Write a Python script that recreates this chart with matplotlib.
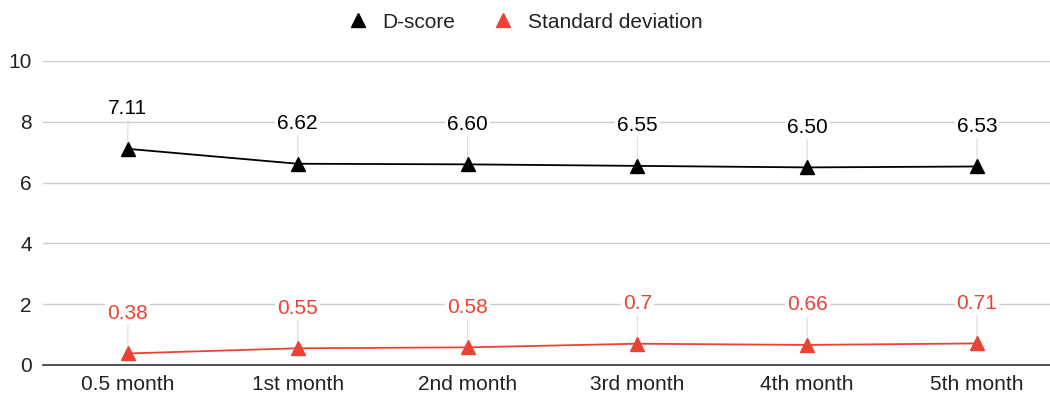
import matplotlib
matplotlib.use("Agg")
import matplotlib.pyplot as plt

categories = ["0.5 month", "1st month", "2nd month", "3rd month", "4th month", "5th month"]
dscore = [7.11, 6.62, 6.60, 6.55, 6.50, 6.53]
stddev = [0.38, 0.55, 0.58, 0.70, 0.66, 0.71]
dscore_labels = ["7.11", "6.62", "6.60", "6.55", "6.50", "6.53"]
stddev_labels = ["0.38", "0.55", "0.58", "0.7", "0.66", "0.71"]

plt.rcParams['font.family'] = ['Liberation Sans', 'DejaVu Sans']

fig = plt.figure(figsize=(10.5, 3.96), dpi=100)
ax = fig.add_axes([43/1050, 1 - 365/396, (1050-43)/1050, (365-61)/396])

BLACK = "#000000"
RED = "#ea4335"
x = list(range(len(categories)))

ax.plot(x, dscore, color=BLACK, lw=1.3, marker="^", ms=10, label="D-score", zorder=4)
ax.plot(x, stddev, color=RED, lw=1.3, marker="^", ms=10, label="Standard deviation", zorder=4)

def annotate(vals, labels, color):
    for xi, v, s in zip(x, vals, labels):
        ax.annotate(s, xy=(xi, v), xytext=(0, 29), textcoords="offset points",
                    ha="center", va="center", fontsize=15, color=color,
                    bbox=dict(boxstyle="square,pad=0.1", fc="white", ec="none"),
                    arrowprops=dict(arrowstyle="-", color="#dddddd", lw=0.8,
                                    shrinkA=0, shrinkB=5),
                    zorder=3)

annotate(dscore, dscore_labels, BLACK)
annotate(stddev, stddev_labels, RED)

ax.set_xlim(-0.5, 5.43)
ax.set_ylim(0, 10)
ax.set_yticks([0, 2, 4, 6, 8, 10])
ax.set_xticks(x)
ax.set_xticklabels(categories)
ax.tick_params(axis="both", length=0, labelsize=15, colors="#222222")
ax.tick_params(axis="x", pad=7)
ax.tick_params(axis="y", pad=8)
ax.grid(axis="y", color="#cccccc", lw=1)
ax.set_axisbelow(True)
for sp in ["top", "right", "left"]:
    ax.spines[sp].set_visible(False)
ax.spines["bottom"].set_color("#333333")
ax.spines["bottom"].set_linewidth(1.2)
ax.spines["bottom"].set_zorder(2)

leg = fig.legend(handles=ax.get_lines(), loc="center", bbox_to_anchor=(0.5, 1 - 22/396),
                 ncol=2, frameon=False, fontsize=15, handlelength=1.0,
                 handletextpad=0.7, columnspacing=1.8)
for h in leg.legend_handles:
    h.set_linestyle("none")
for t in leg.get_texts():
    t.set_color("#222222")

fig.savefig("out.png", dpi=100)
